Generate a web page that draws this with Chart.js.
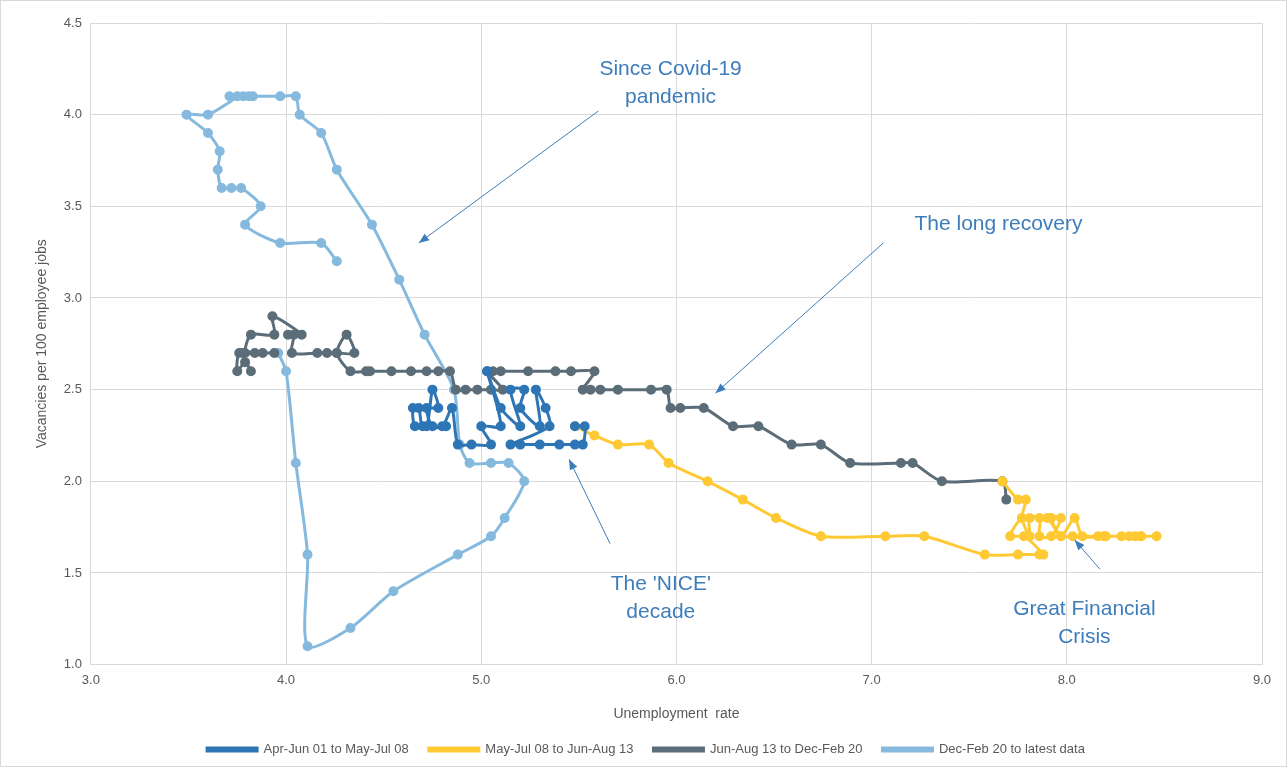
<!DOCTYPE html>
<html>
<head>
<meta charset="utf-8">
<script src="https://cdn.jsdelivr.net/npm/chart.js@4"></script>
<style>
  html, body { margin: 0; padding: 0; background: #fff; }
  #wrap { width: 1285px; height: 765px; border: 1px solid #d9d9d9; }
</style>
</head>
<body>
<div id="wrap"><canvas id="beveridgeChart"></canvas></div>
<script>
// series names
const seriesNames = [
    "Apr-Jun 01 to May-Jul 08",
    "May-Jul 08 to Jun-Aug 13",
    "Jun-Aug 13 to Dec-Feb 20",
    "Dec-Feb 20 to latest data"
];

// [unemployment rate, vacancies per 100 jobs]
const nice = [
    [4.82,2.3],[4.75,2.3],[4.72,2.4],[4.78,2.4],[4.75,2.5],[4.72,2.3],[4.66,2.3],[4.65,2.4],
    [4.68,2.4],[4.70,2.3],[4.80,2.3],[4.85,2.4],[4.88,2.2],[4.95,2.2],[5.05,2.2],[5.00,2.3],
    [5.10,2.3],[5.03,2.6],[5.10,2.4],[5.20,2.3],[5.15,2.5],[5.22,2.5],[5.20,2.4],[5.30,2.3],
    [5.28,2.5],[5.33,2.4],[5.35,2.3],[5.15,2.2],[5.20,2.2],[5.30,2.2],[5.40,2.2],[5.48,2.2],
    [5.52,2.2],[5.53,2.3],[5.48,2.3]
];
const gfc = [
    [5.48,2.3],[5.58,2.25],[5.70,2.2],[5.86,2.2],[5.96,2.1],[6.16,2.0],[6.34,1.9],[6.51,1.8],
    [6.74,1.7],[7.07,1.7],[7.27,1.7],[7.58,1.6],[7.75,1.6],[7.86,1.6],[7.88,1.6],[7.78,1.7],
    [7.71,1.7],[7.77,1.8],[7.86,1.8],[7.86,1.7],[7.92,1.7],[7.97,1.8],[7.92,1.8],[7.97,1.7],
    [8.03,1.7],[8.16,1.7],[8.19,1.7],[8.28,1.7],[8.32,1.7],[8.35,1.7],[8.38,1.7],[8.46,1.7],
    [8.38,1.7],[8.20,1.7],[8.08,1.7],[8.04,1.8],[7.97,1.7],[7.90,1.8],[7.81,1.8],[7.81,1.7],
    [7.77,1.8],[7.79,1.9],[7.75,1.9],[7.67,2.0]
];
const recovery = [
    [7.69,1.9],[7.67,2.0],[7.36,2.0],[7.21,2.1],[7.15,2.1],[6.89,2.1],[6.74,2.2],[6.59,2.2],
    [6.42,2.3],[6.29,2.3],[6.14,2.4],[6.02,2.4],[5.97,2.4],[5.95,2.5],[5.87,2.5],[5.70,2.5],
    [5.61,2.5],[5.56,2.5],[5.52,2.5],[5.58,2.6],[5.46,2.6],[5.38,2.6],[5.24,2.6],[5.10,2.6],
    [5.06,2.6],[5.03,2.6],[5.11,2.5],[5.05,2.5],[4.98,2.5],[4.92,2.5],[4.87,2.5],[4.84,2.6],
    [4.78,2.6],[4.72,2.6],[4.64,2.6],[4.54,2.6],[4.43,2.6],[4.41,2.6],[4.33,2.6],[4.26,2.7],
    [4.31,2.8],[4.35,2.7],[4.26,2.7],[4.21,2.7],[4.16,2.7],[4.03,2.7],[4.04,2.8],[4.01,2.8],
    [4.08,2.8],[3.93,2.9],[3.94,2.8],[3.82,2.8],[3.79,2.7],[3.84,2.7],[3.76,2.7],[3.75,2.6],
    [3.79,2.65],[3.82,2.6],[3.78,2.7],[3.88,2.7],[3.94,2.7]
];
const covid = [
    [3.96,2.7],[4.00,2.6],[4.05,2.1],[4.11,1.6],[4.11,1.1],[4.33,1.2],[4.55,1.4],[4.88,1.6],
    [5.05,1.7],[5.12,1.8],[5.22,2.0],[5.14,2.1],[5.05,2.1],[4.94,2.1],[4.89,2.2],[4.86,2.5],
    [4.71,2.8],[4.58,3.1],[4.44,3.4],[4.26,3.7],[4.18,3.9],[4.07,4.0],[4.05,4.1],[3.97,4.1],
    [3.83,4.1],[3.81,4.1],[3.78,4.1],[3.71,4.1],[3.75,4.1],[3.60,4.0],[3.49,4.0],[3.60,3.9],
    [3.66,3.8],[3.65,3.7],[3.67,3.6],[3.72,3.6],[3.77,3.6],[3.87,3.5],[3.79,3.4],[3.97,3.3],
    [4.18,3.3],[4.26,3.2]
];

const seriesColors = ["#2E75B6", "#FFC934", "#5B6D79", "#85B9DE"];
const allSeries = [nice, gfc, recovery, covid];

// notes: text lines, label anchor (data), arrow from/to (data)
const notes = [
    { lines: ["Since Covid-19", "pandemic"], at: [5.97, 4.25], from: [5.6, 4.02], to: [4.68, 3.3] },
    { lines: ["The long recovery"], at: [7.65, 3.4], from: [7.06, 3.3], to: [6.2, 2.48] },
    { lines: ["The 'NICE'", "decade"], at: [5.92, 1.44], from: [5.66, 1.66], to: [5.45, 2.12] },
    { lines: ["Great Financial", "Crisis"], at: [8.09, 1.3], from: [8.17, 1.52], to: [8.04, 1.68] }
];

const notesPlugin = {
    id: "notes",
    afterDatasetsDraw(chart) {
        const { ctx, scales: { x, y } } = chart;
        ctx.save();
        ctx.strokeStyle = "#3C7DBA";
        ctx.fillStyle = "#3C7DBA";
        ctx.lineWidth = 1;
        notes.forEach(n => {
            const x1 = x.getPixelForValue(n.from[0]), y1 = y.getPixelForValue(n.from[1]);
            const x2 = x.getPixelForValue(n.to[0]), y2 = y.getPixelForValue(n.to[1]);
            ctx.beginPath();
            ctx.moveTo(x1, y1);
            ctx.lineTo(x2, y2);
            ctx.stroke();
            const a = Math.atan2(y2 - y1, x2 - x1);
            ctx.beginPath();
            ctx.moveTo(x2, y2);
            ctx.lineTo(x2 - 11 * Math.cos(a - 0.38), y2 - 11 * Math.sin(a - 0.38));
            ctx.lineTo(x2 - 11 * Math.cos(a + 0.38), y2 - 11 * Math.sin(a + 0.38));
            ctx.closePath();
            ctx.fill();

            ctx.font = "21px 'Liberation Sans', Arial, sans-serif";
            ctx.textAlign = "center";
            ctx.textBaseline = "middle";
            const cx = x.getPixelForValue(n.at[0]), cy = y.getPixelForValue(n.at[1]);
            n.lines.forEach((t, i) => ctx.fillText(t, cx, cy + i * 28));
        });
        ctx.restore();
    }
};

const ctx = document.getElementById("beveridgeChart").getContext("2d");
new Chart(ctx, {
    type: "scatter",
    data: {
        datasets: allSeries.map((s, i) => ({
            label: seriesNames[i],
            data: s.map(p => ({ x: p[0], y: p[1] })),
            showLine: true,
            tension: 0.25,
            borderColor: seriesColors[i],
            backgroundColor: seriesColors[i],
            borderWidth: 3,
            pointRadius: 3.5,
            pointHoverRadius: 3.5
        }))
    },
    options: {
        responsive: true,
        maintainAspectRatio: false,
        animation: false,
        layout: { padding: { top: 22, right: 24, left: 29, bottom: 0 } },
        plugins: {
            tooltip: { enabled: false },
            legend: {
                position: "bottom",
                labels: {
                    boxWidth: 50,
                    boxHeight: 3,
                    padding: 20,
                    color: "#595959",
                    font: { size: 13, family: "'Liberation Sans', Arial, sans-serif" }
                }
            }
        },
        scales: {
            x: {
                type: "linear",
                min: 3, max: 9,
                ticks: { stepSize: 1, color: "#595959", font: { size: 13 }, padding: 8, callback: v => v.toFixed(1) },
                grid: { color: "#d9d9d9", drawTicks: false },
                border: { color: "#d9d9d9" },
                title: { display: true, text: "Unemployment  rate", color: "#595959", font: { size: 14 }, padding: { top: 10, bottom: 0 } }
            },
            y: {
                min: 1, max: 4.5,
                ticks: { stepSize: 0.5, color: "#595959", font: { size: 13 }, padding: 9, callback: v => v.toFixed(1) },
                grid: { color: "#d9d9d9", drawTicks: false },
                border: { color: "#d9d9d9" },
                title: { display: true, text: "Vacancies per 100 employee jobs", color: "#595959", font: { size: 14 } }
            }
        }
    },
    plugins: [notesPlugin]
});
</script>
</body>
</html>
